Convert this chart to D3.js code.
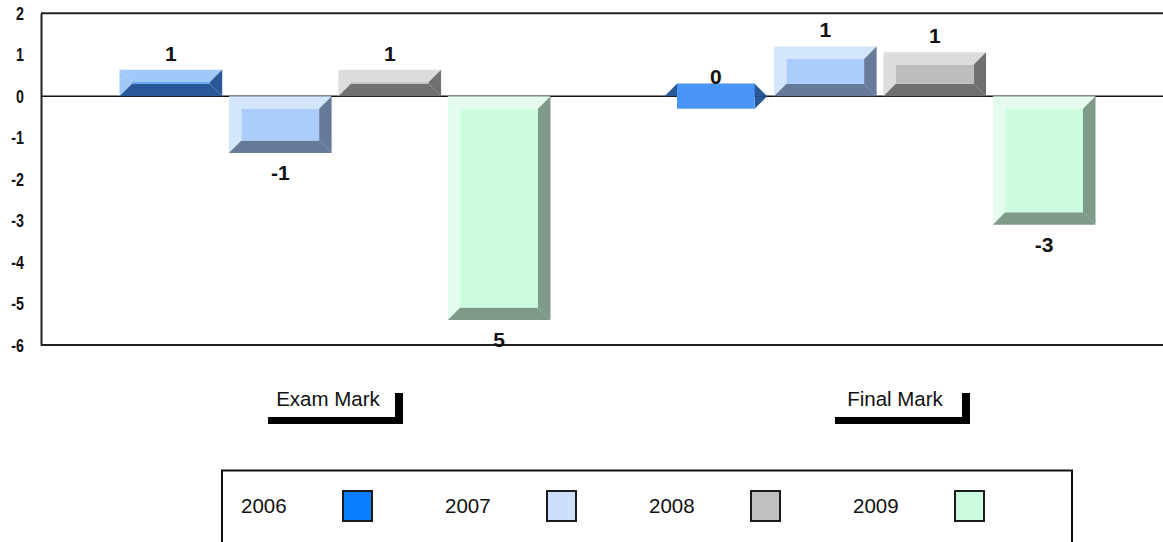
<!DOCTYPE html>
<html>
<head>
<meta charset="utf-8">
<script src="https://cdn.jsdelivr.net/npm/d3@7"></script>
<style>
  body { margin: 0; background: #fff; }
  text { font-family: Arial, "Liberation Sans", sans-serif; }
</style>
</head>
<body>
<div id="chart"></div>
<script>
const categories = ["Exam Mark", "Final Mark"];
const years = ["2006", "2007", "2008", "2009"];
const examValues = [0.64, -1.37, 0.64, -5.4];
const finalValues = [0.0, 1.2, 1.06, -3.1];
const examLabels = ["1", "-1", "1", "5"];
const finalLabels = ["0", "1", "1", "-3"];
const yTicks = [2, 1, 0, -1, -2, -3, -4, -5, -6];

const faceColor = d3.scaleOrdinal().domain(years).range(["#4a96f8", "#aacdfc", "#bdbdbd", "#ccfce0"]);
const lightColor = d3.scaleOrdinal().domain(years).range(["#a0c9fa", "#d4e6fc", "#dcdcdc", "#e4fcee"]);
const darkColor = d3.scaleOrdinal().domain(years).range(["#285898", "#667a99", "#707070", "#7e9a89"]);
const swatchColor = d3.scaleOrdinal().domain(years).range(["#0a7cff", "#cce0fc", "#c0c0c0", "#ccfce0"]);

const width = 1163, height = 542;
const plot = { left: 41, top: 13.3, right: 1170, bottom: 345 };
const bevel = 12.5;

const svg = d3.select("#chart").append("svg")
  .attr("width", width)
  .attr("height", height);

const y = d3.scaleLinear().domain([-6, 2]).range([plot.bottom, plot.top]);
const x0 = d3.scaleBand().domain(categories).range([62.5, 1152.5]);
const x1 = d3.scaleBand().domain(years).range([57, 488]).paddingInner(0.062);
const xLabel = d3.scaleBand().domain(categories).range([44.5, 1178.5]);

const rows = [];
categories.forEach((c, ci) => {
  const vals = ci === 0 ? examValues : finalValues;
  const labs = ci === 0 ? examLabels : finalLabels;
  years.forEach((yr, i) => rows.push({ cat: c, year: yr, value: vals[i], label: labs[i] }));
});

// zero line behind the bars
svg.append("line")
  .attr("x1", plot.left).attr("x2", plot.right)
  .attr("y1", y(0)).attr("y2", y(0))
  .attr("stroke", "#111").attr("stroke-width", 1.5);

// frame: top and bottom lines
svg.append("line")
  .attr("x1", plot.left).attr("x2", plot.right)
  .attr("y1", plot.top).attr("y2", plot.top)
  .attr("stroke", "#222").attr("stroke-width", 2);
svg.append("line")
  .attr("x1", plot.left).attr("x2", plot.right)
  .attr("y1", plot.bottom).attr("y2", plot.bottom)
  .attr("stroke", "#222").attr("stroke-width", 2);

// y axis (labels drawn a little condensed, like the original)
const squeeze = 0.75;
const yAxis = svg.append("g")
  .attr("transform", `translate(${plot.left},0)`)
  .call(d3.axisLeft(y).tickValues(yTicks).tickSize(0).tickSizeOuter(0).tickPadding(17).tickFormat(d => String(d)));
yAxis.select(".domain").attr("stroke", "#222").attr("stroke-width", 2);
yAxis.selectAll(".tick text")
  .attr("x", -17 / squeeze)
  .attr("transform", `scale(${squeeze},1)`)
  .style("font-size", "19px")
  .style("font-weight", "bold")
  .attr("fill", "#111");

// beveled bars
const poly = pts => "M" + pts.map(p => p.join(",")).join("L") + "Z";

svg.append("g").selectAll("g.bar")
  .data(rows)
  .join("g")
  .attr("class", "bar")
  .each(function (d) {
    const g = d3.select(this);
    const xa = x0(d.cat) + x1(d.year);
    const xb = xa + x1.bandwidth();
    const yt = Math.min(y(d.value), y(0));
    const yb = Math.max(y(d.value), y(0));
    const b = bevel;
    const inverted = (yb - yt) < b;
    if (!inverted) {
      g.append("path").attr("fill", lightColor(d.year))
        .attr("d", poly([[xa, yt], [xb, yt], [xb - b, yt + b], [xa + b, yt + b]]));
      g.append("path").attr("fill", lightColor(d.year))
        .attr("d", poly([[xa, yt], [xa + b, yt + b], [xa + b, yb - b], [xa, yb]]));
      g.append("path").attr("fill", darkColor(d.year))
        .attr("d", poly([[xb, yt], [xb, yb], [xb - b, yb - b], [xb - b, yt + b]]));
    } else {
      g.append("path").attr("fill", darkColor(d.year))
        .attr("d", poly([[xb, yb], [xb - b, yb], [xb - b, yt + b]]));
    }
    g.append("path").attr("fill", darkColor(d.year))
      .attr("d", poly([[xa, yb], [xb, yb], [xb - b, yb - b], [xa + b, yb - b]]));
    const fy0 = Math.min(yt + b, yb - b), fy1 = Math.max(yt + b, yb - b);
    g.append("rect").attr("fill", faceColor(d.year))
      .attr("x", xa + b).attr("y", fy0)
      .attr("width", Math.max(0, xb - xa - 2 * b)).attr("height", fy1 - fy0);
  });

// value labels
svg.append("g").selectAll("text")
  .data(rows)
  .join("text")
  .attr("x", d => x0(d.cat) + x1(d.year) + x1.bandwidth() / 2)
  .attr("y", d => d.value >= 0
    ? Math.min(y(d.value) - 9, y(0) - bevel)
    : y(d.value) + 27)
  .attr("text-anchor", "middle")
  .attr("font-size", 21)
  .attr("font-weight", "bold")
  .attr("fill", "#111")
  .text(d => d.label);

// category labels with bracket
const cat = svg.append("g").selectAll("g")
  .data(categories)
  .join("g")
  .attr("transform", d => `translate(${xLabel(d) + xLabel.bandwidth() / 2},0)`);
cat.append("text")
  .attr("y", 406)
  .attr("text-anchor", "middle")
  .attr("font-size", 20.5)
  .attr("fill", "#111")
  .text(d => d);
cat.append("rect").attr("x", -60).attr("y", 417).attr("width", 135).attr("height", 7).attr("fill", "#000");
cat.append("rect").attr("x", 67).attr("y", 393).attr("width", 8).attr("height", 31).attr("fill", "#000");

// legend
svg.append("rect")
  .attr("x", 222).attr("y", 470.5)
  .attr("width", 850).attr("height", 120)
  .attr("fill", "none").attr("stroke", "#111").attr("stroke-width", 2);

const legendX = d3.scaleBand().domain(years).range([241, 1057]);
const item = svg.append("g").selectAll("g")
  .data(years)
  .join("g")
  .attr("transform", d => `translate(${legendX(d)},0)`);
item.append("text")
  .attr("y", 513)
  .attr("font-size", 20.5)
  .attr("fill", "#111")
  .text(d => d);
item.append("rect")
  .attr("x", 102).attr("y", 491)
  .attr("width", 29).attr("height", 30)
  .attr("fill", d => swatchColor(d))
  .attr("stroke", "#1a1a1a").attr("stroke-width", 2);
</script>
</body>
</html>
